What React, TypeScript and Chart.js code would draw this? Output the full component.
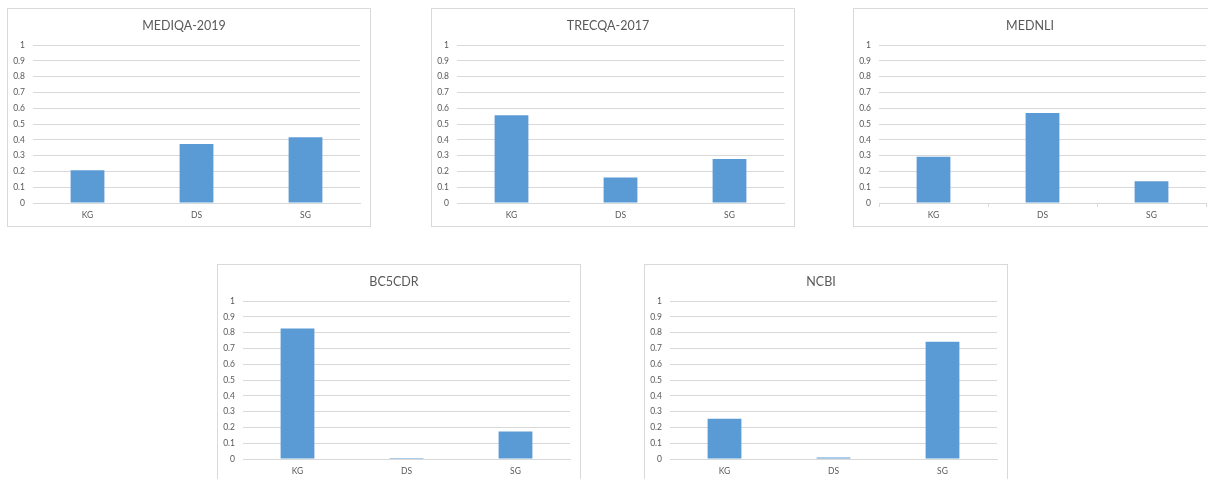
import React, { useEffect, useRef } from "react";
import { Chart, registerables } from "chart.js";

Chart.register(...registerables);

const categories = ["KG", "DS", "SG"];
const yMin = 0;
const yMax = 1;
const yStep = 0.1;

const mediqa2019 = [0.207, 0.374, 0.416];
const trecqa2017 = [0.556, 0.161, 0.279];
const mednli = [0.292, 0.569, 0.137];
const bc5cdr = [0.826, 0.007, 0.174];
const ncbi = [0.254, 0.009, 0.742];

const TEXT = "#595959";
const GRID = "#d9d9d9";
const BAR = "#5B9BD5";
const FONT = "Lato, 'Open Sans', sans-serif";

type PanelProps = {
  title: string;
  values: number[];
  left: number;
  top: number;
  xTicks?: boolean;
};

const BOX_W = 364;
const BOX_H = 219;

function Panel({ title, values, left, top, xTicks }: PanelProps) {
  const ref = useRef<HTMLCanvasElement | null>(null);
  useEffect(() => {
    if (!ref.current) return;
    const chart = new Chart(ref.current, {
      type: "bar",
      data: {
        labels: categories,
        datasets: [
          {
            label: title,
            data: values,
            backgroundColor: BAR,
            borderWidth: 0,
            categoryPercentage: 1,
            barPercentage: 0.31,
          },
        ],
      },
      options: {
        responsive: false,
        animation: false,
        devicePixelRatio: 1,
        layout: { padding: { left: 0, right: 10, top: 0, bottom: 0 } },
        plugins: {
          legend: { display: false },
          tooltip: { enabled: false },
          title: {
            display: true,
            text: title,
            color: TEXT,
            font: { family: FONT, size: 12.5, weight: "normal", lineHeight: 1.2 },
            padding: { top: 9, bottom: 12 },
          },
        },
        scales: {
          x: {
            grid: {
              display: !!xTicks,
              drawOnChartArea: false,
              drawTicks: !!xTicks,
              tickLength: 4,
              color: GRID,
              offset: true,
            },
            border: { display: true, color: GRID, width: 1 },
            ticks: {
              color: TEXT,
              font: { family: FONT, size: 8.5 },
              padding: xTicks ? 3 : 7,
              maxRotation: 0,
            },
            afterFit: (scale: any) => {
              scale.height = 23;
            },
          },
          y: {
            min: yMin,
            max: yMax,
            grid: { color: GRID, drawTicks: false, lineWidth: 1 },
            border: { display: false },
            ticks: {
              stepSize: yStep,
              color: TEXT,
              font: { family: FONT, size: 8.5 },
              padding: 8,
              callback: (v: any) => String(Number(Number(v).toFixed(1))),
            },
            afterFit: (scale: any) => {
              scale.width = 25;
            },
          },
        },
      },
    });
    return () => chart.destroy();
  }, [title, values, xTicks]);

  return (
    <div
      style={{
        position: "absolute",
        left,
        top,
        width: BOX_W,
        height: BOX_H,
        boxSizing: "border-box",
        border: `1px solid ${GRID}`,
        background: "#fff",
      }}
    >
      <canvas ref={ref} width={BOX_W - 2} height={BOX_H - 2} style={{ display: "block" }} />
    </div>
  );
}

export default function App() {
  return (
    <div
      style={{
        position: "fixed",
        left: 0,
        top: 0,
        width: 1208,
        height: 479,
        overflow: "hidden",
        background: "#fff",
      }}
    >
      <Panel title="MEDIQA-2019" values={mediqa2019} left={7} top={8} />
      <Panel title="TRECQA-2017" values={trecqa2017} left={431} top={8} />
      <Panel title="MEDNLI" values={mednli} left={853} top={8} xTicks />
      <Panel title="BC5CDR" values={bc5cdr} left={217} top={264} />
      <Panel title="NCBI" values={ncbi} left={644} top={264} />
    </div>
  );
}
